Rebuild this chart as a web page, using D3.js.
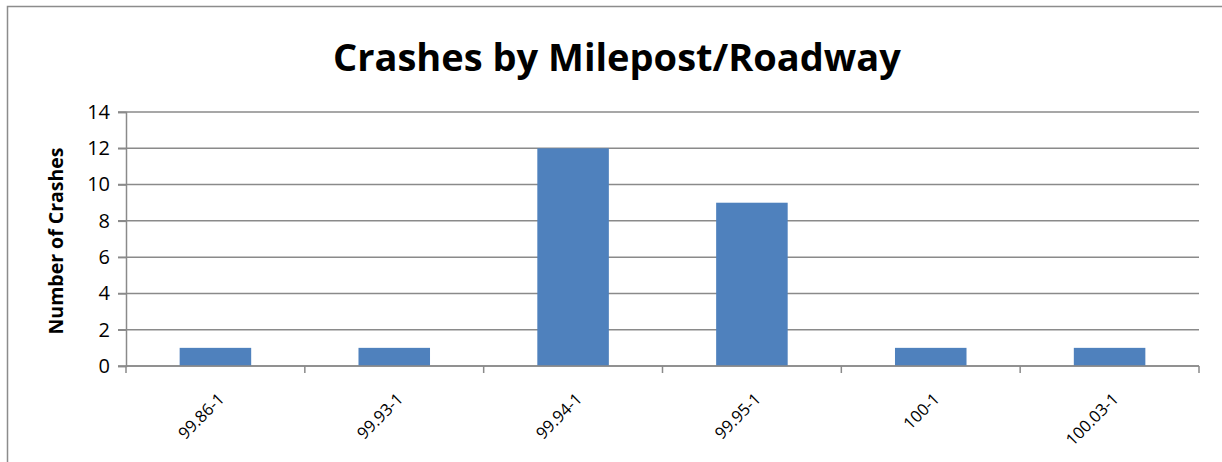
<!DOCTYPE html>
<html>
<head>
<meta charset="utf-8">
<script src="https://cdn.jsdelivr.net/npm/d3@7"></script>
<style>
  body { margin: 0; background: #fff; }
  text { font-family: "Open Sans", "Liberation Sans", sans-serif; }
</style>
</head>
<body>
<div id="chart-area"></div>
<script>
const categories = ["99.86-1", "99.93-1", "99.94-1", "99.95-1", "100-1", "100.03-1"];
const crashes = [1, 1, 12, 9, 1, 1];
const yTicks = [0, 2, 4, 6, 8, 10, 12, 14];

const w = 1222;
const h = 462;
const m = { t: 112, l: 126, r: 23, b: 96 };
const width = w - m.l - m.r;
const height = h - m.t - m.b;

let svg = d3.select("#chart-area")
  .append("svg")
  .attr("width", w)
  .attr("height", h);

// outer frame
svg.append("rect")
  .attr("x", 7.5)
  .attr("y", 6.5)
  .attr("width", w)
  .attr("height", h)
  .attr("fill", "none")
  .attr("stroke", "#8c8c8c")
  .attr("stroke-width", 1.5);

svg.append("text")
  .attr("x", 617)
  .attr("y", 71)
  .attr("text-anchor", "middle")
  .attr("font-size", "38px")
  .attr("font-weight", "bold")
  .attr("fill", "#000")
  .text("Crashes by Milepost/Roadway");

let g = svg.append("g")
  .attr("transform", "translate(" + m.l + "," + m.t + ")");

let x = d3.scaleBand()
  .domain(categories)
  .range([0, width])
  .padding(0);

let y = d3.scaleLinear()
  .domain([0, 14])
  .range([height, 0]);

// gridlines
g.selectAll(".grid")
  .data(yTicks)
  .enter().append("line")
  .attr("class", "grid")
  .attr("x1", -8)
  .attr("x2", width)
  .attr("y1", d => y(d))
  .attr("y2", d => y(d))
  .attr("stroke", "#8a8a8a")
  .attr("stroke-width", 1.5);

let yAxis = g.append("g")
  .call(d3.axisLeft(y).tickValues(yTicks).tickSize(8).tickPadding(8));
yAxis.select(".domain").attr("stroke", "#8a8a8a").attr("stroke-width", 1.5);
yAxis.selectAll(".tick line").attr("stroke", "#8a8a8a").attr("stroke-width", 1.5);
yAxis.selectAll("text")
  .attr("font-size", "20px")
  .attr("fill", "#000")
  .style("font-family", "'Open Sans', sans-serif");

// bars
const barW = x.bandwidth() * 0.4;
g.selectAll(".bar")
  .data(crashes)
  .enter().append("rect")
  .attr("class", "bar")
  .attr("x", (d, i) => x(categories[i]) + (x.bandwidth() - barW) / 2)
  .attr("width", barW)
  .attr("y", d => y(d))
  .attr("height", d => height - y(d))
  .attr("fill", "#4f81bd");

// x axis
let xAxis = g.append("g")
  .attr("transform", "translate(0," + height + ")");
xAxis.append("line")
  .attr("x1", 0).attr("x2", width)
  .attr("stroke", "#8a8a8a").attr("stroke-width", 1.5);
xAxis.selectAll(".xtick")
  .data(d3.range(categories.length + 1))
  .enter().append("line")
  .attr("x1", i => i * x.step())
  .attr("x2", i => i * x.step())
  .attr("y1", 0).attr("y2", 7)
  .attr("stroke", "#8a8a8a").attr("stroke-width", 1.5);
xAxis.selectAll(".xlabel")
  .data(categories)
  .enter().append("text")
  .attr("text-anchor", "end")
  .attr("font-size", "16.5px")
  .attr("fill", "#000")
  .attr("transform", d => "translate(" + (x(d) + x.bandwidth() / 2 + 10) + ",34) rotate(-45)")
  .text(d => d);

// y label
svg.append("text")
  .attr("transform", "translate(63," + (m.t + height / 2 + 2) + ") rotate(-90)")
  .attr("text-anchor", "middle")
  .attr("font-size", "19.5px")
  .attr("font-weight", "bold")
  .attr("fill", "#000")
  .text("Number of Crashes");
</script>
</body>
</html>
